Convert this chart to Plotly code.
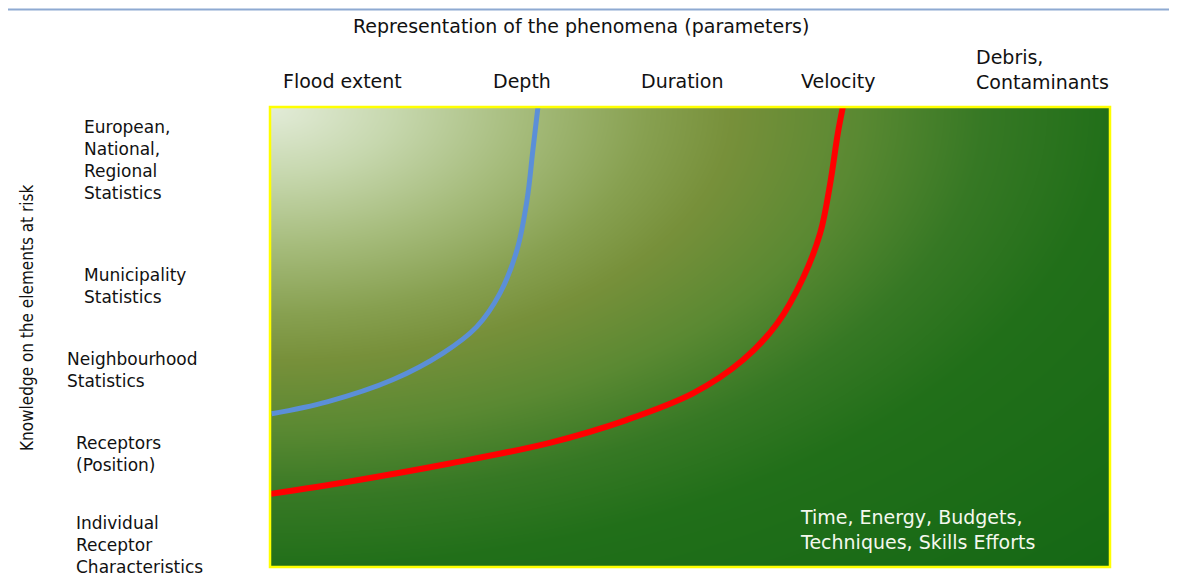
import numpy as np
import plotly.graph_objects as go

# ---- data (axis units 0-100) ----
blue_x = [0.2, 6.8, 14.6, 20.6, 24.6, 27.4, 29.4, 30.6, 31.3, 31.9]
blue_y = [33.3, 35.9, 40.7, 46.5, 52.2, 59.6, 68.9, 79.8, 90.7, 100.0]
red_x = [0.1, 9.5, 21.4, 33.3, 42.5, 50.4, 56.3, 60.4, 63.5, 65.5, 66.7, 67.6, 68.2]
red_y = [15.9, 18.6, 22.5, 27.0, 32.0, 37.8, 45.0, 53.0, 63.0, 72.6, 83.5, 94.3, 100.0]

top_title = "Representation of the phenomena (parameters)"
top_labels = ["Flood extent", "Depth", "Duration", "Velocity", "Debris,<br>Contaminants"]
left_labels = [
    "European,<br>National,<br>Regional<br>Statistics",
    "Municipality<br>Statistics",
    "Neighbourhood<br>Statistics",
    "Receptors<br>(Position)",
    "Individual<br>Receptor<br>Characteristics",
]
y_title = "Knowledge on the elements at risk"
corner_text = "Time, Energy, Budgets,<br>Techniques, Skills Efforts"

# ---- background gradient (styling) ----
gx = np.linspace(0, 100, 61)
gy = np.linspace(0, 100, 41)
U, V = np.meshgrid(gx / 100.0, (100 - gy) / 100.0)
Z = np.sqrt(U ** 2 + V ** 2)
bg_scale = [
    [0.0, "#e3ecd9"],
    [0.106, "#c6d7ad"],
    [0.212, "#a6bc7c"],
    [0.318, "#87a050"],
    [0.389, "#77903a"],
    [0.495, "#5a8932"],
    [0.601, "#367824"],
    [0.707, "#216f19"],
    [1.0, "#156815"],
]

fig = go.Figure()
fig.add_trace(go.Heatmap(x=gx, y=gy, z=Z, zmin=0, zmax=1.414, colorscale=bg_scale,
                         zsmooth="best", showscale=False, hoverinfo="skip"))
fig.add_trace(go.Scatter(x=blue_x, y=blue_y, mode="lines",
                         line=dict(color="#5b8fd8", width=5, shape="spline"),
                         showlegend=False, hoverinfo="skip"))
fig.add_trace(go.Scatter(x=red_x, y=red_y, mode="lines",
                         line=dict(color="#ff0000", width=6, shape="spline"),
                         showlegend=False, hoverinfo="skip"))

# figure is drawn inside the page body with an 8px offset
OFF = 8
W, H = 1169, 568
L, R, T, B = 262, 67, 99, 9
PW, PH = W - L - R, H - T - B


def px(x):
    return (x - OFF - L) / PW


def py(y):
    return (H - B - (y - OFF)) / PH


font_main = "DejaVu Sans, Verdana, sans-serif"
ann = []
ann.append(dict(text=top_title, x=px(581), y=py(26), xref="paper", yref="paper",
                showarrow=False, xanchor="center", yanchor="middle",
                font=dict(family=font_main, size=19, color="#111111")))
top_pos = [342, 522, 682, 838, 1042]
for lab, xc in zip(top_labels, top_pos):
    yy = py(81) if "<br>" not in lab else py(70)
    ann.append(dict(text=lab, x=px(xc), y=yy, xref="paper", yref="paper",
                    showarrow=False, xanchor="center", yanchor="middle", align="left",
                    font=dict(family=font_main, size=19, color="#111111")))
left_pos = [(82, 160), (82, 286), (65, 370), (74, 454), (74, 545)]
for lab, (xl, yc) in zip(left_labels, left_pos):
    ann.append(dict(text=lab, x=px(xl), y=py(yc), xref="paper", yref="paper",
                    showarrow=False, xanchor="left", yanchor="middle", align="left",
                    font=dict(family=font_main, size=17, color="#111111")))
ann.append(dict(text=y_title, x=px(27), y=py(318), xref="paper", yref="paper",
                showarrow=False, xanchor="center", yanchor="middle", textangle=-90,
                font=dict(family="Liberation Sans Narrow, DejaVu Sans Condensed, sans-serif",
                          size=17, color="#111111")))
ann.append(dict(text=corner_text, x=px(798), y=py(529), xref="paper", yref="paper",
                showarrow=False, xanchor="left", yanchor="middle", align="left",
                font=dict(family=font_main, size=19, color="#f4f8ee")))

shapes = [
    dict(type="line", xref="paper", yref="paper", x0=px(0), x1=px(1177),
         y0=py(9.5), y1=py(9.5), line=dict(color="#8eaad2", width=2)),
    dict(type="rect", xref="paper", yref="paper", x0=0, x1=1, y0=0, y1=1,
         line=dict(color="#ffff00", width=2.5), layer="above"),
]

fig.update_layout(
    width=W, height=H,
    margin=dict(l=L, r=R, t=T, b=B, pad=0),
    paper_bgcolor="white", plot_bgcolor="white",
    xaxis=dict(range=[0, 100], visible=False, fixedrange=True),
    yaxis=dict(range=[0, 100], visible=False, fixedrange=True),
    annotations=ann, shapes=shapes, showlegend=False,
)
fig.write_html("out.html")
